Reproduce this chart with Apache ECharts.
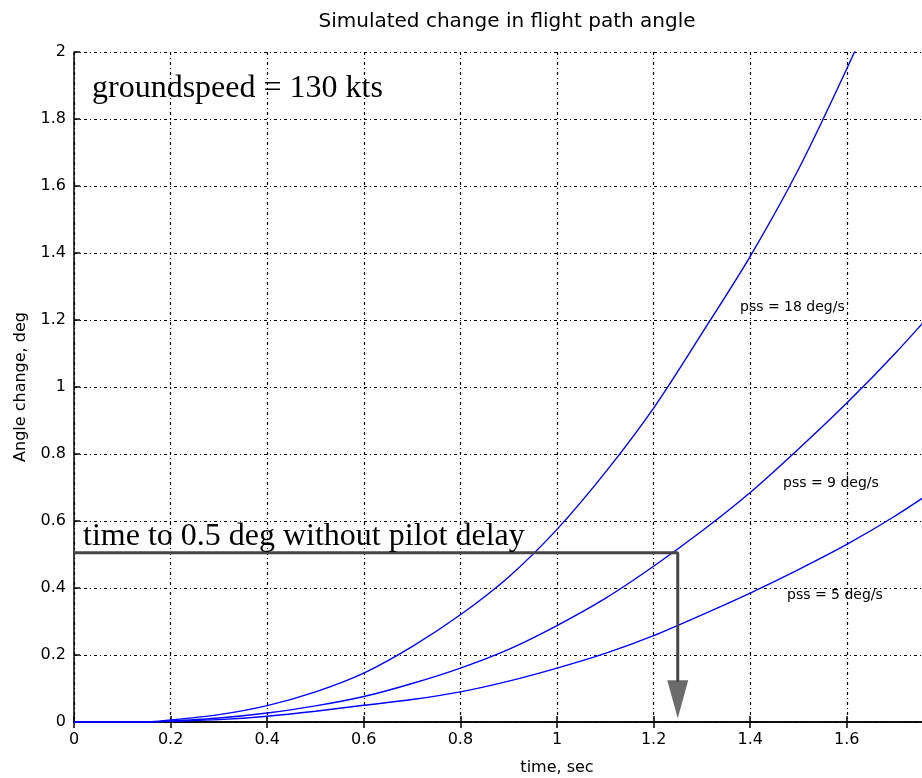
<!DOCTYPE html>
<html>
<head>
<meta charset="utf-8">
<script src="https://cdn.jsdelivr.net/npm/echarts@6/dist/echarts.min.js"></script>
<style>
html,body{margin:0;padding:0;background:#fff;overflow:hidden;width:922px;height:778px;}
#chart{width:1080px;height:778px;}
</style>
</head>
<body>
<div id="chart"></div>
<script>
// time, sec
var times = [0, 0.1, 0.15, 0.2, 0.3, 0.4, 0.5, 0.6, 0.7, 0.8, 0.9, 1.0, 1.1, 1.2, 1.3, 1.4, 1.5, 1.6, 1.7, 1.8];
// Angle change, deg
var pss18 = [0, 0, 0, 0.006, 0.022, 0.049, 0.09, 0.146, 0.225, 0.32, 0.433, 0.575, 0.745, 0.937, 1.16, 1.39, 1.65, 1.95, 2.27, 2.6];
var pss9  = [0, 0, 0, 0.003, 0.012, 0.027, 0.048, 0.076, 0.115, 0.161, 0.217, 0.288, 0.369, 0.465, 0.57, 0.685, 0.815, 0.952, 1.1, 1.26];
var pss5  = [0, 0, 0, 0.002, 0.007, 0.017, 0.032, 0.05, 0.067, 0.09, 0.122, 0.161, 0.205, 0.258, 0.32, 0.385, 0.455, 0.53, 0.615, 0.71];
var seriesNames = ['pss = 18 deg/s', 'pss = 9 deg/s', 'pss = 5 deg/s'];
// annotation path: time to 0.5 deg
var delayPathT = [0, 1.25, 1.25];
var delayPathV = [0.505, 0.505, 0.12];
var arrowHead = [1.25, 0.068];
var xTicks = {min: 0, max: 2, interval: 0.2};
var yTicks = {min: 0, max: 2, interval: 0.2};

function pairs(xs, ys){ return xs.map(function(x,i){ return [x, ys[i]]; }); }

var chart = echarts.init(document.getElementById('chart'), null, {renderer:'canvas', width:1080, height:778});
var gridStyle = {color:'#000', width:1.2, type:[3,3,1,3]};
var sans = 'DejaVu Sans, Arial, Helvetica, sans-serif';
var serif = 'Liberation Serif, Times New Roman, serif';

function curve(name, vals){
  return {
    name: name, type:'line', data: pairs(times, vals),
    showSymbol:false, smooth:0.3,
    lineStyle:{color:'#0000ff', width:1.4}, z:5, clip:true
  };
}

chart.setOption({
  animation:false,
  backgroundColor:'#fff',
  title:{
    text:'Simulated change in flight path angle',
    left:502, top:7, textAlign:'center',
    textStyle:{fontFamily:sans, fontSize:20, fontWeight:'normal', color:'#000'}
  },
  grid:{left:74, top:52, width:966, height:670, containLabel:false, outerBoundsMode:'none'},
  xAxis:[{
    type:'value', min:xTicks.min, max:xTicks.max, interval:xTicks.interval,
    name:'time, sec', nameLocation:'middle', nameGap:38,
    nameTextStyle:{fontFamily:sans, fontSize:16, color:'#000'},
    axisLine:{show:true, onZero:false, lineStyle:{color:'#000', width:1.5}},
    axisTick:{show:true, inside:true, length:6, lineStyle:{color:'#000', width:1.5}},
    axisLabel:{fontFamily:sans, fontSize:16, color:'#000', margin:10},
    splitLine:{show:true, lineStyle:gridStyle}
  },{
    type:'value', position:'top', min:xTicks.min, max:xTicks.max, interval:xTicks.interval,
    axisLine:{show:true, lineStyle:{color:'#000', width:1.5}},
    axisTick:{show:true, inside:true, length:6, lineStyle:{color:'#000', width:1.5}},
    axisLabel:{show:false}, splitLine:{show:false}
  }],
  yAxis:{
    type:'value', min:yTicks.min, max:yTicks.max, interval:yTicks.interval,
    name:'Angle change, deg', nameLocation:'middle', nameGap:45, nameRotate:90,
    nameTextStyle:{fontFamily:sans, fontSize:16, color:'#000'},
    axisLine:{show:true, lineStyle:{color:'#000', width:1.5}},
    axisTick:{show:true, inside:true, length:6, lineStyle:{color:'#000', width:1.5}},
    axisLabel:{fontFamily:sans, fontSize:16, color:'#000', margin:8},
    splitLine:{show:true, lineStyle:gridStyle}
  },
  series:[
    curve(seriesNames[0], pss18),
    curve(seriesNames[1], pss9),
    curve(seriesNames[2], pss5),
    {
      name:'delay path', type:'line', data: pairs(delayPathT, delayPathV),
      showSymbol:false, symbol:'none', lineStyle:{color:'#464646', width:3}, z:6
    },
    {
      name:'arrow', type:'scatter', data:[arrowHead], symbol:'triangle',
      symbolSize:[21,38], symbolRotate:180, itemStyle:{color:'#464646'}, z:7
    }
  ],
  graphic:[
    {type:'text', left:92, top:73, style:{text:'groundspeed = 130 kts', font:'32px '+serif, fill:'#000'}, z:10},
    {type:'text', left:83, top:521, style:{text:'time to 0.5 deg without pilot delay', font:'32px '+serif, fill:'#000'}, z:10},
    {type:'text', left:740, top:300, style:{text:seriesNames[0], font:'14px '+sans, fill:'#000'}, z:10},
    {type:'text', left:783, top:476, style:{text:seriesNames[1], font:'14px '+sans, fill:'#000'}, z:10},
    {type:'text', left:787, top:588, style:{text:seriesNames[2], font:'14px '+sans, fill:'#000'}, z:10}
  ]
});
</script>
</body>
</html>
